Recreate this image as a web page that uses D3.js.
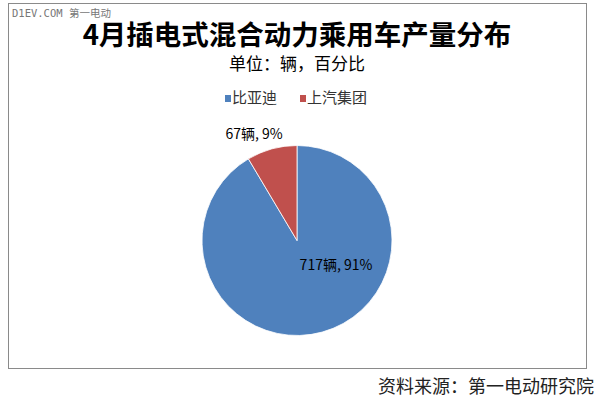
<!DOCTYPE html>
<html><head><meta charset="utf-8">
<script src="https://cdn.jsdelivr.net/npm/d3@7"></script>
<style>body{margin:0;background:#fff}svg{display:block}</style>
</head><body>
<svg id="c" width="600" height="406"></svg>
<script>
const categories = ["比亚迪", "上汽集团"];
const values = [717, 67];
const percents = ["91%", "9%"];
const unit = "辆";
const colors = ["#4F81BD", "#C0504D"];
const title = "4月插电式混合动力乘用车产量分布";
const subtitle = "单位：辆，百分比";
const source = "资料来源：第一电动研究院";
const watermark = "D1EV.COM 第一电动";

const svg = d3.select("#c");
const font = "'Noto Sans CJK SC','Noto Sans',sans-serif";

svg.append("rect").attr("x", 8.5).attr("y", 3.5).attr("width", 578).attr("height", 365)
  .attr("fill", "#fff").attr("stroke", "#8a8a8a").attr("stroke-width", 1);

svg.append("text").attr("x", 12).attr("y", 17).text(watermark)
  .attr("font-family", "'DejaVu Sans Mono','Noto Sans CJK SC',monospace").attr("font-size", 10.5).attr("fill", "#777");

svg.append("text").attr("x", 297).attr("y", 45).attr("text-anchor", "middle").text(title)
  .attr("font-family", font).attr("font-weight", "bold").attr("font-size", 27.5).attr("fill", "#000");
svg.append("text").attr("x", 297).attr("y", 70).attr("text-anchor", "middle").text(subtitle)
  .attr("font-family", font).attr("font-size", 17).attr("fill", "#000");

// legend
const legendX = [225, 300];
categories.forEach((c, i) => {
  svg.append("rect").attr("x", legendX[i]).attr("y", 95).attr("width", 6).attr("height", 7).attr("fill", colors[i]);
  svg.append("text").attr("x", legendX[i] + 7).attr("y", 103).text(c)
    .attr("font-family", font).attr("font-size", 15).attr("fill", "#333");
});

const cx = 297, cy = 240.5, r = 95;
const pie = d3.pie().sort(null).value(d => d)(values);
const arc = d3.arc().innerRadius(0).outerRadius(r);
const g = svg.append("g").attr("transform", `translate(${cx},${cy})`);
g.selectAll("path").data(pie).join("path")
  .attr("d", arc).attr("fill", (d, i) => colors[i]).attr("stroke", "#fff").attr("stroke-width", 0.8);

// labels
const labelPos = [[336, 270], [254, 139]];
pie.forEach((d, i) => {
  svg.append("text").attr("x", labelPos[i][0]).attr("y", labelPos[i][1]).attr("text-anchor", "middle")
    .text(values[i] + unit + ", " + percents[i])
    .attr("font-family", font).attr("font-size", 14).attr("fill", "#000");
});

svg.append("text").attr("x", 594).attr("y", 393).attr("text-anchor", "end").text(source)
  .attr("font-family", font).attr("font-size", 18).attr("fill", "#222");
</script>
</body></html>
